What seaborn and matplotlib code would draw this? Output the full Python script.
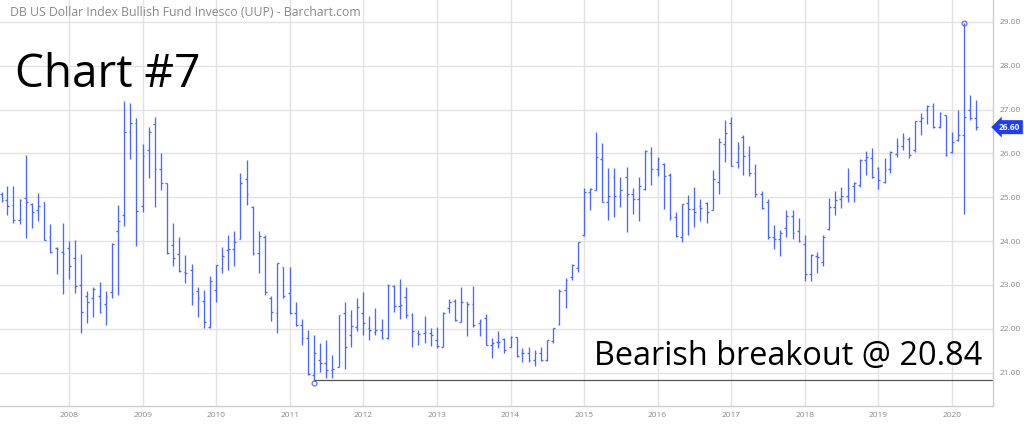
import numpy as np
import pandas as pd
import matplotlib
matplotlib.use("Agg")
import matplotlib.pyplot as plt
import matplotlib.transforms as mtrans
import seaborn as sns

# ---------------- data (monthly OHLC, UUP) ----------------
start_month = "2007-02-01"
opens = [25.07, 24.94, 24.83, 24.48, 24.98, 24.85, 24.71, 24.90, 24.10, 23.84, 23.75,
         23.84, 23.61, 23.00, 22.75, 22.71, 22.75, 22.57, 22.85, 24.22, 24.60, 26.48, 26.69,
         24.81, 26.08, 26.67, 25.64, 25.32, 23.91, 23.71, 23.30, 23.34, 22.87, 22.64, 22.05,
         22.89, 23.38, 23.80, 23.81, 24.06, 25.41, 24.79, 23.72, 24.09, 22.71, 22.35, 23.40,
         22.81, 22.37, 22.08, 21.78, 20.95, 21.29, 21.23, 21.06, 21.14, 22.35, 21.86, 22.05,
         22.35, 22.01, 21.92, 21.98, 21.79, 22.98, 22.51, 22.73, 22.32, 21.90, 21.90, 21.90,
         21.75, 21.59, 22.47, 22.64, 22.16, 22.62, 22.57, 22.14, 22.24, 21.63, 21.70, 21.76,
         21.59, 21.81, 21.44, 21.46, 21.29, 21.46, 21.29, 21.73, 22.12, 22.89, 23.19, 23.38,
         24.14, 25.11, 25.17, 25.87, 24.90, 25.47, 25.03, 25.46, 25.08, 24.96, 25.18, 26.00,
         25.64, 25.76, 25.51, 24.56, 24.09, 24.87, 24.73, 24.80, 24.86, 24.71, 25.36, 26.22,
         26.70, 25.81, 26.38, 25.97, 25.56, 25.08, 24.90, 24.09, 24.04, 24.30, 24.57, 24.24,
         23.94, 23.25, 23.66, 23.53, 24.27, 24.79, 24.95, 25.02, 25.26, 25.28, 25.84, 25.89,
         25.66, 25.36, 25.64, 25.99, 26.16, 26.32, 26.08, 26.73, 26.99, 27.08, 26.60, 26.88,
         26.04, 26.30, 26.42, 26.99, 26.80]
highs = [25.13, 25.26, 25.26, 24.95, 25.97, 24.86, 25.09, 24.90, 24.39, 23.86, 24.42,
         24.01, 24.03, 23.70, 22.87, 22.95, 23.06, 22.87, 23.95, 24.82, 27.20, 27.14, 26.80,
         26.22, 26.60, 26.83, 26.00, 25.33, 24.42, 24.10, 23.68, 23.49, 22.95, 22.89, 23.20,
         23.46, 23.87, 24.14, 24.23, 25.55, 25.84, 24.80, 24.22, 24.14, 22.75, 23.51, 23.42,
         23.42, 22.62, 22.22, 21.97, 21.86, 21.68, 21.75, 21.40, 22.32, 22.62, 22.43, 22.70,
         22.85, 22.29, 22.47, 22.22, 23.02, 23.00, 23.13, 22.96, 22.35, 21.97, 22.29, 22.03,
         22.05, 22.39, 22.67, 22.68, 22.96, 22.62, 22.98, 22.22, 22.34, 21.78, 21.94, 21.78,
         21.84, 21.82, 21.56, 21.59, 21.52, 21.59, 21.75, 22.03, 22.90, 23.15, 23.48, 23.99,
         25.21, 25.22, 26.50, 26.23, 25.66, 25.66, 25.47, 25.70, 25.21, 25.47, 26.08, 26.14,
         25.93, 25.78, 25.56, 24.67, 24.85, 25.05, 25.23, 24.95, 24.90, 25.62, 26.35, 26.76,
         26.83, 26.27, 26.42, 26.16, 25.76, 25.15, 24.95, 24.37, 24.25, 24.72, 24.72, 24.52,
         24.14, 23.71, 23.76, 24.14, 24.98, 25.15, 25.23, 25.66, 25.36, 25.87, 26.05, 26.12,
         25.70, 25.89, 26.06, 26.35, 26.46, 26.38, 26.75, 26.92, 27.11, 27.16, 26.95, 26.88,
         26.48, 26.99, 28.98, 27.33, 27.22]
lows = [24.90, 24.60, 24.41, 24.39, 24.08, 24.31, 24.47, 24.03, 23.72, 23.25, 22.79,
        23.13, 22.82, 21.91, 22.14, 22.28, 22.37, 22.09, 22.70, 22.78, 24.35, 25.87, 23.89,
        24.67, 25.43, 24.79, 25.17, 23.71, 23.43, 23.30, 23.05, 22.54, 22.26, 22.01, 22.02,
        22.62, 23.27, 23.35, 23.43, 24.04, 24.83, 23.68, 23.28, 22.77, 22.19, 21.91, 22.71,
        22.33, 22.06, 21.63, 20.95, 20.80, 21.02, 20.87, 20.87, 21.14, 21.08, 21.59, 21.96,
        21.86, 21.74, 21.86, 21.76, 21.76, 22.39, 22.22, 22.25, 21.59, 21.63, 21.67, 21.61,
        21.56, 21.59, 22.35, 22.19, 22.16, 21.84, 22.05, 21.84, 21.63, 21.33, 21.56, 21.46,
        21.59, 21.36, 21.25, 21.25, 21.15, 21.27, 21.27, 21.67, 22.09, 22.47, 23.11, 23.30,
        24.12, 24.70, 25.17, 24.90, 24.48, 24.54, 24.79, 24.20, 24.63, 24.45, 25.17, 25.28,
        25.49, 24.73, 24.48, 24.10, 23.97, 24.14, 24.33, 24.47, 24.41, 24.70, 25.08, 25.81,
        25.71, 25.66, 25.51, 25.49, 25.00, 24.73, 24.06, 23.81, 23.66, 24.09, 24.06, 23.99,
        23.08, 23.10, 23.28, 23.43, 24.26, 24.60, 24.75, 24.90, 24.90, 25.23, 25.51, 25.43,
        25.18, 25.33, 25.56, 25.93, 26.09, 25.89, 26.04, 26.42, 26.67, 26.57, 26.57, 25.94,
        26.00, 26.28, 24.63, 26.76, 26.54]
closes = [24.94, 24.81, 24.48, 24.94, 24.89, 24.66, 24.80, 24.03, 23.75, 23.81, 23.71,
          23.43, 22.97, 22.39, 22.62, 22.90, 22.39, 22.73, 23.94, 24.45, 26.50, 26.70, 24.69,
          25.94, 26.48, 25.64, 25.33, 23.72, 23.62, 23.32, 23.28, 22.80, 22.71, 22.16, 23.09,
          23.46, 23.65, 23.81, 23.97, 25.33, 25.08, 23.72, 24.12, 22.83, 22.38, 23.50, 22.75,
          22.37, 22.08, 21.78, 20.98, 21.45, 21.23, 21.05, 21.08, 22.32, 21.59, 22.06, 22.50,
          22.13, 21.98, 21.98, 21.79, 23.00, 22.51, 22.55, 22.32, 21.94, 21.89, 21.92, 21.86,
          21.60, 22.37, 22.62, 22.20, 22.62, 22.57, 22.09, 22.19, 21.63, 21.67, 21.70, 21.52,
          21.81, 21.38, 21.46, 21.29, 21.46, 21.29, 21.74, 22.02, 22.87, 23.11, 23.46, 23.97,
          25.11, 25.18, 25.91, 24.90, 25.03, 25.03, 25.17, 25.08, 24.96, 25.26, 26.06, 25.64,
          25.87, 25.49, 24.54, 24.12, 24.85, 24.73, 24.67, 24.75, 24.67, 25.42, 26.25, 26.46,
          25.72, 26.12, 25.94, 25.56, 25.08, 24.75, 24.09, 24.04, 24.19, 24.57, 24.19, 24.01,
          23.25, 23.68, 23.63, 24.09, 24.77, 24.94, 25.02, 25.21, 25.32, 25.85, 25.91, 25.47,
          25.40, 25.62, 26.04, 26.17, 26.35, 25.97, 26.73, 26.80, 27.08, 26.60, 26.92, 25.97,
          26.27, 26.42, 26.83, 26.80, 26.60]
year_labels = [str(y) for y in range(2008, 2021)]
price_ticks = [21, 22, 23, 24, 25, 26, 27, 28, 29]
breakout_level = 20.84
breakout_start = "2011-05-01"
last_price = 26.60

title_text = "DB US Dollar Index Bullish Fund Invesco (UUP) - Barchart.com"
chart_label = "Chart #7"
breakout_label = "Bearish breakout @ 20.84"

# ---------------- build frame ----------------
dates = pd.date_range(start_month, periods=len(opens), freq="MS")
df = pd.DataFrame({"date": dates, "open": opens, "high": highs,
                   "low": lows, "close": closes})

sns.set_theme(style="whitegrid")
plt.rcParams["font.family"] = ["Open Sans", "DejaVu Sans"]

W, H = 1024, 424
fig = plt.figure(figsize=(W / 100, H / 100), dpi=100)
ax = fig.add_axes([0, 18 / H, 993 / W, 406 / H])
ax.set_facecolor("white")

bar_color = "#4d66ff"
half = pd.Timedelta(days=9)
ax.vlines(df["date"], df["low"], df["high"], color=bar_color, lw=0.95)
ax.hlines(df["open"], df["date"] - half, df["date"], color=bar_color, lw=0.95)
ax.hlines(df["close"], df["date"], df["date"] + half, color=bar_color, lw=0.95)

# markers at extreme low / high
i_lo = int(np.argmin(df["low"]))
i_hi = int(np.argmax(df["high"]))
ax.plot(df["date"][i_lo], df["low"][i_lo] - 0.04, marker="o", ms=3.5, mfc="none",
        mec=bar_color, mew=0.8)
ax.plot(df["date"][i_hi], df["high"][i_hi], marker="o", ms=3.5, mfc="none",
        mec=bar_color, mew=0.8)

xmin = pd.Timestamp("2007-01-24")
xmax = pd.Timestamp("2020-07-23")
ax.hlines(breakout_level, pd.Timestamp(breakout_start), xmax, color="#555555", lw=0.9)

ax.set_xlim(xmin, xmax)
ax.set_ylim(20.24, 29.50)

# grid / ticks
ax.grid(True, color="#e2e2e2", lw=1.0)
ax.set_xticks([pd.Timestamp(f"{y}-01-01") for y in year_labels])
ax.set_xticklabels(year_labels)
ax.set_yticks(price_ticks)
ax.set_yticklabels([f"{v:.2f}" for v in price_ticks])
ax.yaxis.tick_right()
ax.tick_params(axis="both", length=0, labelsize=6, labelcolor="#888888")
ax.tick_params(axis="y", pad=4.5)
ax.tick_params(axis="x", pad=4)
for s in ["left", "top"]:
    ax.spines[s].set_visible(False)
for s in ["right", "bottom"]:
    ax.spines[s].set_visible(True)
    ax.spines[s].set_color("#cccccc")
    ax.spines[s].set_linewidth(1.0)

# last price tag
trans = mtrans.blended_transform_factory(ax.transAxes, ax.transData)
ax.text(1.006, last_price, f"{last_price:.2f}", transform=trans, ha="left", va="center",
        fontsize=6, fontweight="bold", color="white", clip_on=False,
        bbox=dict(boxstyle="larrow,pad=0.3", fc="#1f3cff", ec="none"))

# texts
fig.text(10 / W, 1 - 13 / H, title_text, ha="left", va="center", fontsize=8.8,
         color="#888888")
fig.text(15 / W, 1 - 87 / H, chart_label, ha="left", va="baseline", fontsize=33,
         color="black")
fig.text(982 / W, 1 - 365 / H, breakout_label, ha="right", va="baseline", fontsize=23.4,
         color="black")

fig.savefig("out.png", dpi=100)
